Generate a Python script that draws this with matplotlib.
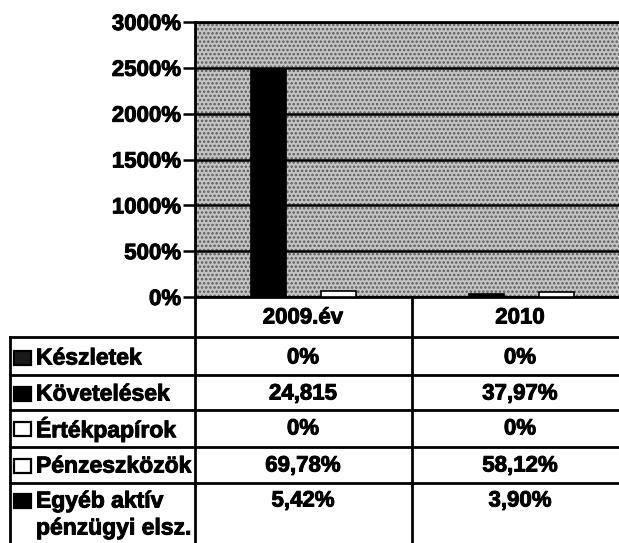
import matplotlib
matplotlib.use("Agg")
import matplotlib.pyplot as plt
from matplotlib.patches import Rectangle
import matplotlib.patheffects as pe
import numpy as np

plt.rcParams['font.family'] = ['Liberation Sans', 'DejaVu Sans']
plt.rcParams['font.weight'] = 'bold'
plt.rcParams['hatch.linewidth'] = 1.2

# ---------------- data ----------------
categories = ["2009.év", "2010"]
series_names = ["Készletek", "Követelések", "Értékpapírok", "Pénzeszközök", "Egyéb aktív\npénzügyi elsz."]
# values in percent, as plotted
v_keszletek = [0.0, 0.0]
v_kovetelesek = [2481.5, 37.97]
v_ertekpapirok = [0.0, 0.0]
v_penzeszkozok = [69.78, 58.12]
v_egyeb = [5.42, 3.90]
series_values = [v_keszletek, v_kovetelesek, v_ertekpapirok, v_penzeszkozok, v_egyeb]
# data table text, as printed
table_2009 = ["0%", "24,815", "0%", "69,78%", "5,42%"]
table_2010 = ["0%", "37,97%", "0%", "58,12%", "3,90%"]
yticks = [0, 500, 1000, 1500, 2000, 2500, 3000]
ytick_labels = ["0%", "500%", "1000%", "1500%", "2000%", "2500%", "3000%"]

# ---------------- styles ----------------
face = ["#1a1a1a", "black", "white", "white", "black"]
W, H = 619, 543
fig = plt.figure(figsize=(W / 100, H / 100), dpi=100)
fig.patch.set_facecolor("white")
heavy = [pe.withStroke(linewidth=0.7, foreground="black")]

def fx(px):
    return px / W

def fy(py):
    return 1 - py / H

x0, x1, ytop, ybot = 195, 619, 22, 297
ax = fig.add_axes([fx(x0), fy(ybot), fx(x1) - fx(x0), fy(ytop) - fy(ybot)])
ax.set_xlim(-0.5, 1.45)
ax.set_ylim(0, 3000)

# textured background
ax.set_facecolor("#c4c4c4")
ax.add_patch(Rectangle((0, 0), 1, 1, transform=ax.transAxes, facecolor="none",
                       edgecolor="#5a5a5a", hatch="....", lw=0, zorder=0))

for yv in yticks:
    ax.axhline(yv, color="black", lw=1.8, zorder=1)

bw = 0.161
xs = np.arange(len(categories))
for i, (vals, fc) in enumerate(zip(series_values, face)):
    ax.bar(xs + (i - 2) * bw, vals, width=bw, color=fc, edgecolor="black",
           linewidth=1.2, zorder=3)

ax.set_yticks(yticks)
ax.set_yticklabels(ytick_labels, fontsize=16, fontweight="bold")
for t in ax.get_yticklabels():
    t.set_path_effects(heavy)
ax.tick_params(axis="y", length=9, width=1.8, pad=1, direction="out")
ax.set_xticks([])
for s in ["left", "top", "bottom"]:
    ax.spines[s].set_linewidth(2)
    ax.spines[s].set_color("black")
ax.spines["right"].set_visible(False)

# ---------------- data table (overlay in pixel coords) ----------------
ov = fig.add_axes([0, 0, 1, 1], zorder=5)
ov.set_xlim(0, W)
ov.set_ylim(H, 0)
ov.axis("off")
ov.patch.set_alpha(0)

lw = 2.0
ov.plot([195, 195], [297, 545], color="black", lw=lw)
ov.plot([412, 412], [297, 545], color="black", lw=lw)
ov.plot([10, 10], [337, 545], color="black", lw=lw)
for yl in [337, 375, 410, 447, 483]:
    ov.plot([10, 619], [yl, yl], color="black", lw=lw)

def txt(x, y, s, ha="center", size=16):
    ov.text(x, y, s, ha=ha, va="center", fontsize=size, fontweight="bold",
            path_effects=heavy)

col_c = [303, 520]
txt(col_c[0], 318, categories[0])
txt(col_c[1], 318, categories[1])

row_y = [358, 394, 429, 466, 501]
for i, name in enumerate(series_names):
    yy = row_y[i]
    ov.add_patch(Rectangle((14, yy - 7), 17, 14, facecolor=face[i], edgecolor="black", lw=1.6))
    lines = name.split("\n")
    txt(36, yy, lines[0], ha="left", size=16.5)
    if len(lines) > 1:
        txt(36, 528, lines[1], ha="left", size=16.5)
    txt(col_c[0], yy, table_2009[i])
    txt(col_c[1], yy, table_2010[i])

fig.savefig("out.png", dpi=100)
